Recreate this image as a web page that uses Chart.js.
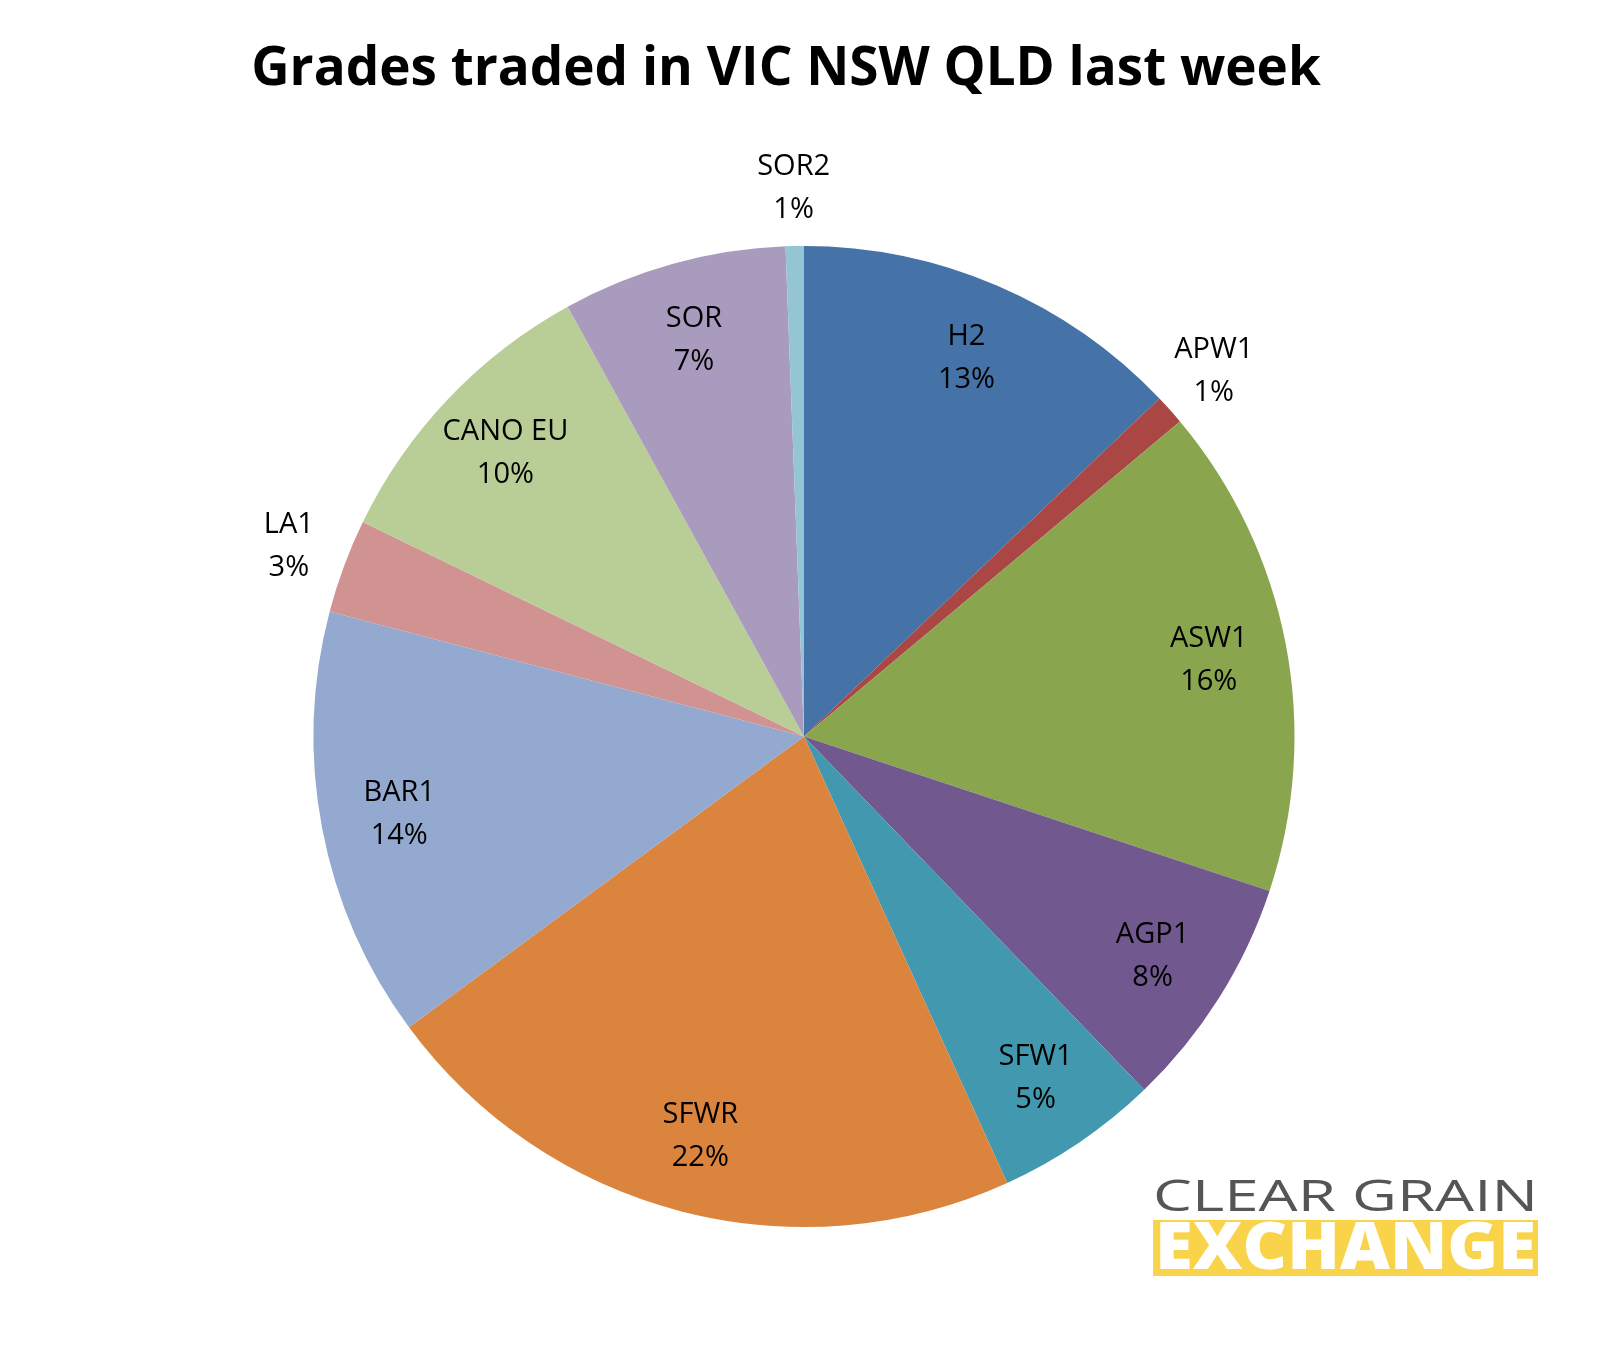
<!DOCTYPE html>
<html><head><meta charset="utf-8">
<script src="https://cdn.jsdelivr.net/npm/chart.js@4/dist/chart.umd.min.js"></script>
<style>html,body{margin:0;padding:0;background:#fff}#c{display:block}</style>
</head><body>
<div style="width:1609px;height:1351px"><canvas id="c"></canvas></div>
<script>
const categories = ["H2","APW1","ASW1","AGP1","SFW1","SFWR","BAR1","LA1","CANO EU","SOR","SOR2"];
const values = [12.9,1.0,16.2,7.7,5.4,21.7,14.2,3.1,9.8,7.4,0.6];
const pctLabels = ["13%","1%","16%","8%","5%","22%","14%","3%","10%","7%","1%"];
const colors = ["#4572A7","#AA4643","#89A54E","#71588F","#4198AF","#DB843D","#93A9CF","#D19392","#B9CD96","#A99BBD","#93C5D4"];
const outside = [false,true,false,false,false,false,false,true,false,false,true];
const titleText = "Grades traded in VIC NSW QLD last week";
const FONT = "'Open Sans','Liberation Sans',sans-serif";

function fitText(ctx, txt, x, baseline, w) {
  const m = ctx.measureText(txt).width;
  ctx.save();
  ctx.translate(x, baseline);
  ctx.scale(w / m, 1);
  ctx.fillText(txt, 0, 0);
  ctx.restore();
}

const deco = {
  id:'deco',
  afterDraw(chart){
    const ctx = chart.ctx;
    ctx.save();
    ctx.fillStyle = '#000';
    ctx.font = "bold 53px " + FONT;
    ctx.textAlign = 'center'; ctx.textBaseline = 'middle';
    ctx.fillText(titleText, 786, 70);
    const meta = chart.getDatasetMeta(0);
    ctx.font = "29px " + FONT;
    meta.data.forEach((arc, i) => {
      const p = arc.getProps(['x','y','startAngle','endAngle','outerRadius'], true);
      const mid = (p.startAngle + p.endAngle) / 2;
      const r = outside[i] ? p.outerRadius * 1.12 : p.outerRadius * 0.84;
      const x = p.x + Math.cos(mid) * r, y = p.y + Math.sin(mid) * r;
      ctx.fillStyle = '#000';
      ctx.fillText(categories[i], x, y - 21);
      ctx.fillText(pctLabels[i], x, y + 22);
    });
    ctx.textAlign = 'left'; ctx.textBaseline = 'alphabetic';
    ctx.fillStyle = '#555';
    ctx.font = "44px " + FONT;
    fitText(ctx, "CLEAR GRAIN", 1153, 1211, 385);
    ctx.fillStyle = '#F9D349';
    ctx.fillRect(1153, 1220, 385, 56);
    ctx.fillStyle = '#fff';
    ctx.font = "800 66px " + FONT;
    fitText(ctx, "EXCHANGE", 1155, 1269, 381);
    ctx.restore();
  }
};

new Chart(document.getElementById('c'), {
  type: 'pie',
  data: { labels: categories, datasets: [{ data: values, backgroundColor: colors, borderWidth: 0 }] },
  options: {
    responsive: true, maintainAspectRatio: false, animation: false,
    layout: { padding: { left: 313, right: 314, top: 246, bottom: 124 } },
    plugins: { legend: { display: false }, tooltip: { enabled: false } }
  },
  plugins: [deco]
});
</script>
</body></html>
